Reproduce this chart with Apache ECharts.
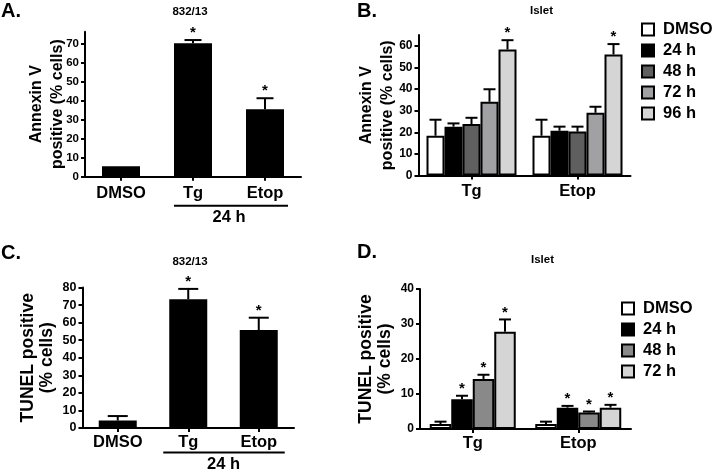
<!DOCTYPE html>
<html>
<head>
<meta charset="utf-8">
<script src="https://cdn.jsdelivr.net/npm/echarts@6/dist/echarts.min.js"></script>
<style>html,body{margin:0;padding:0;background:#fff;}#c{width:717px;height:473px;}</style>
</head>
<body>
<div id="c"></div>
<script>
// ---------- Panel A: Annexin V, 832/13 ----------
const aCategories = ['DMSO', 'Tg', 'Etop'];
const aValues = [5.5, 70.4, 35.6];
const aErrors = [0, 1.7, 5.8];
const aStars = [0, 1, 1];
const aTicks = [0, 10, 20, 30, 40, 50, 60, 70];

// ---------- Panel B: Annexin V, Islet ----------
const bCategories = ['Tg', 'Etop'];
const bSeriesNames = ['DMSO', '24 h', '48 h', '72 h', '96 h'];
const bDMSO = [18.4, 18.4];   const bDMSOErr = [7.4, 7.4];
const b24h  = [22.6, 20.7];   const b24hErr  = [1.5, 1.9];
const b48h  = [23.8, 20.3];   const b48hErr  = [2.9, 2.3];
const b72h  = [34.1, 29.0];   const b72hErr  = [5.8, 2.8];
const b96h  = [58.3, 56.0];   const b96hErr  = [4.3, 4.8];
const bStars = [[0, 0], [0, 0], [0, 0], [0, 0], [1, 1]];
const bTicks = [0, 10, 20, 30, 40, 50, 60];

// ---------- Panel C: TUNEL, 832/13 ----------
const cCategories = ['DMSO', 'Tg', 'Etop'];
const cValues = [4.2, 73.3, 55.8];
const cErrors = [2.6, 5.9, 7.0];
const cStars = [0, 1, 1];
const cTicks = [0, 10, 20, 30, 40, 50, 60, 70, 80];

// ---------- Panel D: TUNEL, Islet ----------
const dCategories = ['Tg', 'Etop'];
const dSeriesNames = ['DMSO', '24 h', '48 h', '72 h'];
const dDMSO = [1.4, 1.4];   const dDMSOErr = [0.7, 0.7];
const d24h  = [8.5, 6.1];   const d24hErr  = [1.0, 0.5];
const d48h  = [14.3, 4.7];  const d48hErr  = [1.2, 0.3];
const d72h  = [27.8, 6.1];  const d72hErr  = [3.5, 0.8];
const dStars = [[0, 0], [1, 1], [1, 1], [1, 1]];
const dTicks = [0, 10, 20, 30, 40];

const bracketLabel = '24 h';

// ---------- styling ----------
const FF = "'Liberation Sans', Arial, Helvetica, sans-serif";
const bColors = ['#ffffff', '#000000', '#5f5f5f', '#a1a1a3', '#d5d5d5'];
const dColors = ['#ffffff', '#000000', '#898989', '#d5d5d5'];

const chart = echarts.init(document.getElementById('c'), null, {renderer: 'canvas'});

function errRender(barW, n, capW, starGap, starSize) {
  return function (params, api) {
    const cat = api.value(0), g = api.value(1), v = api.value(2), e = api.value(3), star = api.value(4);
    const base = api.coord([cat, v]);
    const top = api.coord([cat, v + e]);
    const x = base[0] + (g - (n - 1) / 2) * barW;
    const children = [];
    if (e > 0) {
      children.push({type: 'line', shape: {x1: x, y1: base[1], x2: x, y2: top[1]}, style: {stroke: '#000', lineWidth: 2}});
      children.push({type: 'line', shape: {x1: x - capW / 2, y1: top[1], x2: x + capW / 2, y2: top[1]}, style: {stroke: '#000', lineWidth: 2}});
    }
    if (star) {
      children.push({type: 'text', x: x, y: top[1] - starGap,
        style: {text: '*', fontSize: starSize, fontWeight: 'bold', fontFamily: FF, fill: '#000', align: 'center', verticalAlign: 'middle'}});
    }
    return {type: 'group', children: children};
  };
}

function bracketRender(dy, extL, extR, textDy) {
  return function (params, api) {
    const p1 = api.coord([api.value(0), 0]);
    const p2 = api.coord([api.value(1), 0]);
    const y = p1[1] + dy;
    return {type: 'group', children: [
      {type: 'line', shape: {x1: p1[0] - extL, y1: y, x2: p2[0] + extR, y2: y}, style: {stroke: '#000', lineWidth: 2}},
      {type: 'text', x: (p1[0] + p2[0]) / 2, y: y + textDy,
        style: {text: bracketLabel, fontSize: 16.5, fontWeight: 'bold', fontFamily: FF, fill: '#000', align: 'center', verticalAlign: 'middle'}}
    ]};
  };
}

function single(values, errs, stars) {
  return values.map((v, i) => [i, 0, v, errs[i], stars[i]]);
}
function grouped(valueLists, errLists, starLists) {
  const out = [];
  valueLists.forEach((vals, g) => vals.forEach((v, i) => out.push([i, g, v, errLists[g][i], starLists[g][i]])));
  return out;
}

const axisLineStyle = {show: true, lineStyle: {color: '#000', width: 2}};
const tickStyle = {color: '#000', width: 2};

function xAxisCfg(idx, cats, margin) {
  return {gridIndex: idx, type: 'category', data: cats,
    axisLine: axisLineStyle,
    axisTick: {show: true, alignWithLabel: true, length: 4, lineStyle: tickStyle},
    axisLabel: {fontSize: 16.5, fontWeight: 'bold', color: '#000', fontFamily: FF, margin: margin}};
}
function yAxisCfg(idx, max, ticks, name, nameGap, nameSize, lh, labelSize) {
  return {gridIndex: idx, type: 'value', min: 0, max: max,
    name: name, nameLocation: 'middle', nameRotate: 90, nameGap: nameGap, nameMoveOverlap: false,
    nameTextStyle: {fontSize: nameSize, fontWeight: 'bold', color: '#000', fontFamily: FF, lineHeight: lh, align: 'center'},
    splitLine: {show: false},
    axisLine: axisLineStyle,
    axisTick: {show: true, length: 4, lineStyle: tickStyle, customValues: ticks},
    axisLabel: {fontSize: labelSize, fontWeight: 'bold', color: '#000', fontFamily: FF, margin: 6, customValues: ticks}};
}

const bVals = [bDMSO, b24h, b48h, b72h, b96h];
const bErrs = [bDMSOErr, b24hErr, b48hErr, b72hErr, b96hErr];
const dVals = [dDMSO, d24h, d48h, d72h];
const dErrs = [dDMSOErr, d24hErr, d48hErr, d72hErr];

const series = [];
// A
series.push({type: 'bar', xAxisIndex: 0, yAxisIndex: 0, data: aValues, barWidth: 38,
  itemStyle: {color: '#000'}, silent: true});
series.push({type: 'custom', xAxisIndex: 0, yAxisIndex: 0, renderItem: errRender(38, 1, 17, 7, 15),
  data: single(aValues, aErrors, aStars), encode: {x: 0, y: 2}, z: 5, silent: true});
series.push({type: 'custom', xAxisIndex: 0, yAxisIndex: 0, renderItem: bracketRender(29, 19, 23, 12),
  data: [[1, 2]], encode: {x: [0, 1]}, z: 5, silent: true, clip: false});
// B
bSeriesNames.forEach((nm, g) => series.push({type: 'bar', name: nm, xAxisIndex: 1, yAxisIndex: 1, data: bVals[g],
  barWidth: 18, barGap: '0%', itemStyle: {color: bColors[g], borderColor: '#000', borderWidth: 2}, silent: true}));
series.push({type: 'custom', xAxisIndex: 1, yAxisIndex: 1, renderItem: errRender(18, 5, 12, 7, 15),
  data: grouped(bVals, bErrs, bStars), encode: {x: 0, y: 2}, z: 5, silent: true});
// C
series.push({type: 'bar', xAxisIndex: 2, yAxisIndex: 2, data: cValues, barWidth: 38,
  itemStyle: {color: '#000'}, silent: true});
series.push({type: 'custom', xAxisIndex: 2, yAxisIndex: 2, renderItem: errRender(38, 1, 20, 7, 15),
  data: single(cValues, cErrors, cStars), encode: {x: 0, y: 2}, z: 5, silent: true});
series.push({type: 'custom', xAxisIndex: 2, yAxisIndex: 2, renderItem: bracketRender(24.5, 25, 26, 12),
  data: [[1, 2]], encode: {x: [0, 1]}, z: 5, silent: true, clip: false});
// D
dSeriesNames.forEach((nm, g) => series.push({type: 'bar', name: nm, xAxisIndex: 3, yAxisIndex: 3, data: dVals[g],
  barWidth: 21.5, barGap: '0%', itemStyle: {color: dColors[g], borderColor: '#000', borderWidth: 2}, silent: true}));
series.push({type: 'custom', xAxisIndex: 3, yAxisIndex: 3, renderItem: errRender(21.5, 4, 12, 7, 15),
  data: grouped(dVals, dErrs, dStars), encode: {x: 0, y: 2}, z: 5, silent: true});

function legendCfg(names, colors, left, top) {
  return {orient: 'vertical', left: left, top: top, itemWidth: 12, itemHeight: 12, itemGap: 4, selectedMode: false,
    padding: 0,
    data: names.map((n, i) => ({name: n, icon: 'rect', itemStyle: {color: colors[i], borderColor: '#000', borderWidth: 2}})),
    textStyle: {fontSize: 16.5, fontWeight: 'bold', color: '#000', fontFamily: FF, padding: [0, 0, 0, 4]}};
}

function label(text, x, y, size) {
  return {type: 'text', x: x, y: y, style: {text: text, fontSize: size, fontWeight: 'bold', fontFamily: FF, fill: '#000',
    align: size > 15 ? 'left' : 'center', verticalAlign: 'middle'}};
}

const option = {
  animation: false,
  backgroundColor: '#fff',
  grid: [
    {left: 85, top: 31.7, width: 216, height: 145},
    {left: 418.5, top: 35, width: 212, height: 140.5},
    {left: 82.5, top: 287.5, width: 211.5, height: 140.5},
    {left: 420, top: 289, width: 211, height: 140}
  ],
  xAxis: [
    xAxisCfg(0, aCategories, 8),
    xAxisCfg(1, bCategories, 7),
    xAxisCfg(2, cCategories, 6),
    xAxisCfg(3, dCategories, 6)
  ],
  yAxis: [
    yAxisCfg(0, 76.5, aTicks, 'Annexin V\npositive (% cells)', 17, 16, 21, 11.5),
    yAxisCfg(1, 65, bTicks, 'Annexin V\npositive (% cells)', 20, 16, 21, 12),
    yAxisCfg(2, 80, cTicks, 'TUNEL positive\n(% cells)', 26, 17.5, 19, 12.5),
    yAxisCfg(3, 40, dTicks, 'TUNEL positive\n(% cells)', 25, 17.5, 19, 12)
  ],
  legend: [
    legendCfg(bSeriesNames, bColors, 641, 21),
    legendCfg(dSeriesNames, dColors, 621, 300)
  ],
  graphic: [
    label('A.', 1, 11.5, 20),
    label('832/13', 190, 11.5, 11.5),
    label('B.', 357, 11.5, 20),
    label('Islet', 541.5, 11, 11.5),
    label('C.', 1, 253, 20),
    label('832/13', 190, 261.5, 11.5),
    label('D.', 357, 252, 20),
    label('Islet', 542.5, 260, 11.5)
  ],
  series: series
};
chart.setOption(option);
</script>
</body>
</html>
